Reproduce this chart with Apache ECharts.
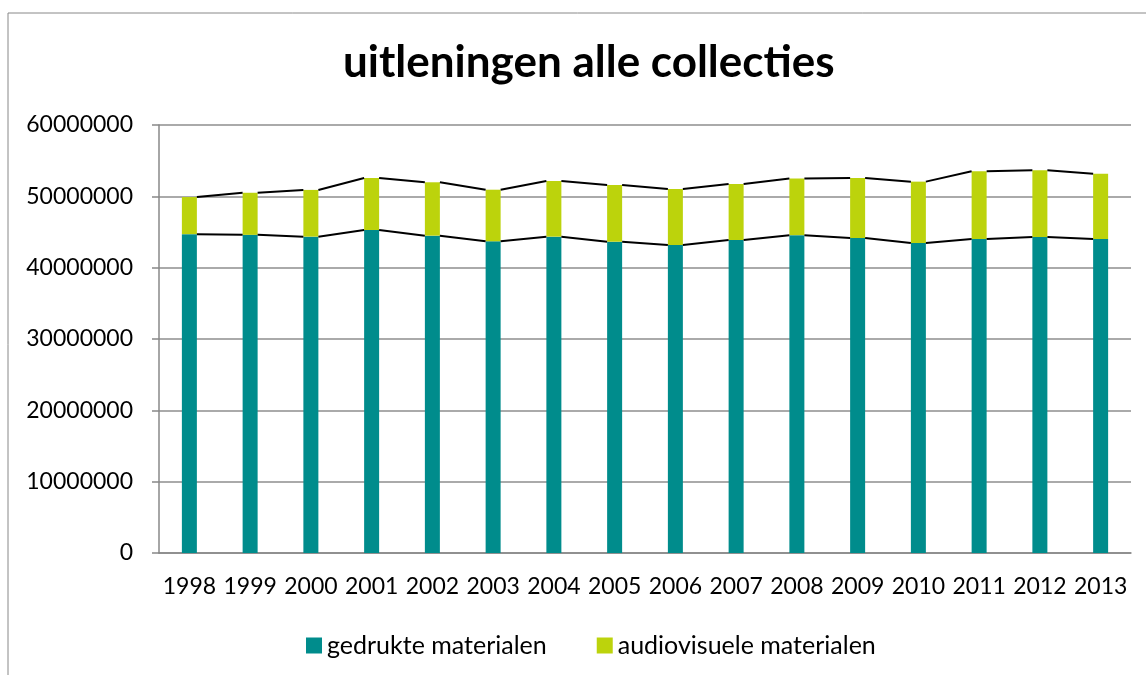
<!DOCTYPE html>
<html>
<head>
<meta charset="utf-8">
<script src="https://cdn.jsdelivr.net/npm/echarts@6/dist/echarts.min.js"></script>
<style>
  html, body { margin: 0; padding: 0; background: #fff; }
  #chart { width: 1146px; height: 675px; }
</style>
</head>
<body>
<div id="chart"></div>
<script>
// jaren en uitleningen per jaar
const years = ["1998", "1999", "2000", "2001", "2002", "2003", "2004", "2005",
  "2006", "2007", "2008", "2009", "2010", "2011", "2012", "2013"];
const gedrukt = [44700000, 44600000, 44350000, 45280000, 44490000, 43700000, 44350000, 43640000,
  43180000, 43880000, 44560000, 44160000, 43460000, 44020000, 44300000, 44020000];
const audiovisueel = [5200000, 5900000, 6550000, 7290000, 7480000, 7230000, 7800000, 7950000,
  7850000, 7850000, 7940000, 8410000, 8600000, 9490000, 9350000, 9160000];
const yTicks = [0, 10000000, 20000000, 30000000, 40000000, 50000000, 60000000];

const totaal = gedrukt.map((v, i) => v + audiovisueel[i]);
const barW = 15;

// verbindingslijnen tussen de staven (zoals Excel reekslijnen)
function lijnData(vals) {
  const out = [];
  for (let i = 0; i < vals.length - 1; i++) out.push([i, vals[i], vals[i + 1]]);
  return out;
}
function lijnRender(params, api) {
  const p1 = api.coord([api.value(0), api.value(1)]);
  const p2 = api.coord([api.value(0) + 1, api.value(2)]);
  return {
    type: "line",
    shape: { x1: p1[0] + barW / 2, y1: p1[1], x2: p2[0] - barW / 2, y2: p2[1] },
    style: { stroke: "#000", lineWidth: 2 }
  };
}

let chart = echarts.init(document.getElementById("chart"));
chart.setOption({
  animation: false,
  textStyle: { fontFamily: "Lato" },
  title: {
    text: "uitleningen alle collecties",
    left: 338,
    top: 36,
    textStyle: { fontFamily: "Lato", fontWeight: "bold", fontSize: 44, color: "#000" }
  },
  graphic: [{
    type: "rect",
    shape: { x: 8, y: 13, width: 1300, height: 800 },
    style: { fill: "none", stroke: "#888", lineWidth: 1 },
    silent: true
  }],
  legend: {
    top: 628,
    left: 301,
    itemWidth: 16,
    itemHeight: 16,
    itemGap: 50,
    icon: "rect",
    textStyle: { fontFamily: "Lato", fontSize: 25, color: "#000" },
    data: ["gedrukte materialen", "audiovisuele materialen"]
  },
  grid: { left: 159, right: 15, top: 125, bottom: 122, containLabel: false },
  xAxis: {
    type: "category",
    data: years,
    axisLine: { lineStyle: { color: "#888", width: 1.5 } },
    axisTick: { show: false },
    axisLabel: { fontSize: 23, color: "#000", margin: 22, interval: 0 }
  },
  yAxis: {
    type: "value",
    min: yTicks[0],
    max: yTicks[yTicks.length - 1],
    interval: yTicks[1] - yTicks[0],
    axisLine: { show: true, lineStyle: { color: "#888", width: 1.5 } },
    axisTick: { show: true, length: 7, lineStyle: { color: "#888", width: 1.5 } },
    splitLine: { lineStyle: { color: "#8e8e8e", width: 1.5 } },
    axisLabel: { fontSize: 23, color: "#000", margin: 26, formatter: (v) => String(v) }
  },
  series: [
    {
      name: "gedrukte materialen",
      type: "bar",
      stack: "totaal",
      barWidth: barW,
      itemStyle: { color: "#008c8c" },
      data: gedrukt
    },
    {
      name: "audiovisuele materialen",
      type: "bar",
      stack: "totaal",
      barWidth: barW,
      itemStyle: { color: "#bcd30c" },
      data: audiovisueel
    },
    {
      type: "custom",
      renderItem: lijnRender,
      data: lijnData(gedrukt),
      z: 5,
      silent: true
    },
    {
      type: "custom",
      renderItem: lijnRender,
      data: lijnData(totaal),
      z: 5,
      silent: true
    }
  ]
});
</script>
</body>
</html>
